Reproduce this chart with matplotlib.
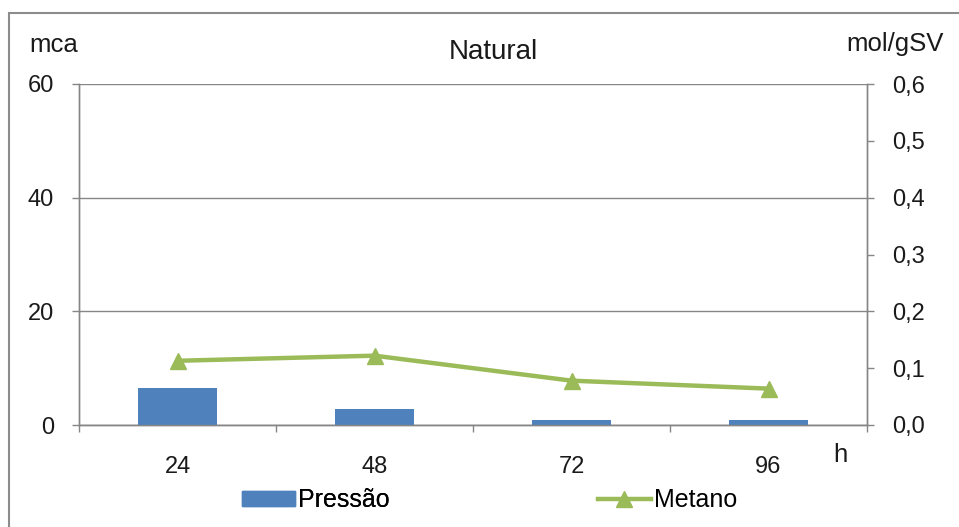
import matplotlib
matplotlib.use("Agg")
import matplotlib.pyplot as plt
from matplotlib.patches import Rectangle
from matplotlib.lines import Line2D
from matplotlib.ticker import FuncFormatter, FixedLocator

plt.rcParams['font.family'] = ['Liberation Sans', 'DejaVu Sans']

# Data
horas = ["24", "48", "72", "96"]
pressao = [6.5, 2.9, 0.9, 0.9]          # mca
metano = [0.113, 0.122, 0.078, 0.064]   # mol/gSV

W, H = 959, 527
fig = plt.figure(figsize=(W / 100, H / 100), dpi=100)
fig.patch.set_facecolor("white")

ax = fig.add_axes([79 / W, 1 - 425 / H, (867 - 79) / W, (425 - 84) / H])
ax2 = ax.twinx()

grey = "#868686"
blue = "#4F81BD"
green = "#9BBB59"
txt = "#1a1a1a"
fs_tick = 17
fs_unit = 18.5
fs_title = 20
fs_leg = 18

x = list(range(len(horas)))
ax.bar(x, pressao, width=0.4, color=blue, zorder=3)
ax.set_xlim(-0.5, len(horas) - 0.5)
ax.set_ylim(0, 60)
ax.set_yticks([0, 20, 40, 60])
ax.yaxis.grid(True, color=grey, lw=1.0, zorder=0)
ax.set_axisbelow(True)

ax2.plot(x, metano, color=green, lw=3.2, marker="^", markersize=12,
         markeredgecolor=green, markerfacecolor=green, zorder=4)
ax2.set_ylim(0, 0.6)
ax2.set_yticks([0.0, 0.1, 0.2, 0.3, 0.4, 0.5, 0.6])
ax2.yaxis.set_major_formatter(FuncFormatter(lambda v, p: f"{v:.1f}".replace(".", ",")))

# category axis: labels centred, tick marks at boundaries
ax.set_xticks(x)
ax.set_xticklabels(horas)
ax.tick_params(axis="x", which="major", length=0, pad=22, labelsize=fs_tick, colors=txt)
ax.xaxis.set_minor_locator(FixedLocator([i - 0.5 for i in range(len(horas) + 1)]))
ax.tick_params(axis="x", which="minor", length=5, width=1, color=grey, direction="out")

ax.tick_params(axis="y", length=5, width=1, color=grey, pad=13, labelsize=fs_tick, labelcolor=txt)
ax2.tick_params(axis="y", length=5, width=1, color=grey, pad=13, labelsize=fs_tick, labelcolor=txt)

for a in (ax, ax2):
    a.spines["top"].set_visible(False)
    for s in ("left", "right", "bottom"):
        a.spines[s].set_color(grey)
        a.spines[s].set_linewidth(1.0)

# titles and axis units
fig.text(54 / W, 1 - 45 / H, "mca", ha="center", va="center", fontsize=fs_unit, color=txt)
fig.text(493 / W, 1 - 52 / H, "Natural", ha="center", va="center", fontsize=fs_title, color=txt)
fig.text(895 / W, 1 - 44 / H, "mol/gSV", ha="center", va="center", fontsize=fs_unit, color=txt)
fig.text(840 / W, 1 - 455 / H, "h", ha="center", va="center", fontsize=fs_unit, color=txt)

# legend entries
h1 = Rectangle((0, 0), 1, 1, color=blue)
h2 = Line2D([], [], color=green, lw=3.2, marker="^", markersize=12)
leg_kw = dict(loc="center left", frameon=False, fontsize=fs_leg, handlelength=2.1,
              handleheight=0.55, handletextpad=0.15, borderpad=0, borderaxespad=0)
leg1 = fig.legend([h1], ["Pressão"], bbox_to_anchor=(242 / W, 1 - 500 / H), **leg_kw)
fig.add_artist(leg1)
fig.legend([h2], ["Metano"], bbox_to_anchor=(598 / W, 1 - 500 / H), **leg_kw)

# chart frame
fig.patches.append(Rectangle((9 / W, -0.05), 1.0, 1 - 13 / H + 0.05, transform=fig.transFigure,
                             fill=False, edgecolor="#8c8c8c", lw=1.5))

fig.savefig("out.png", dpi=100)
